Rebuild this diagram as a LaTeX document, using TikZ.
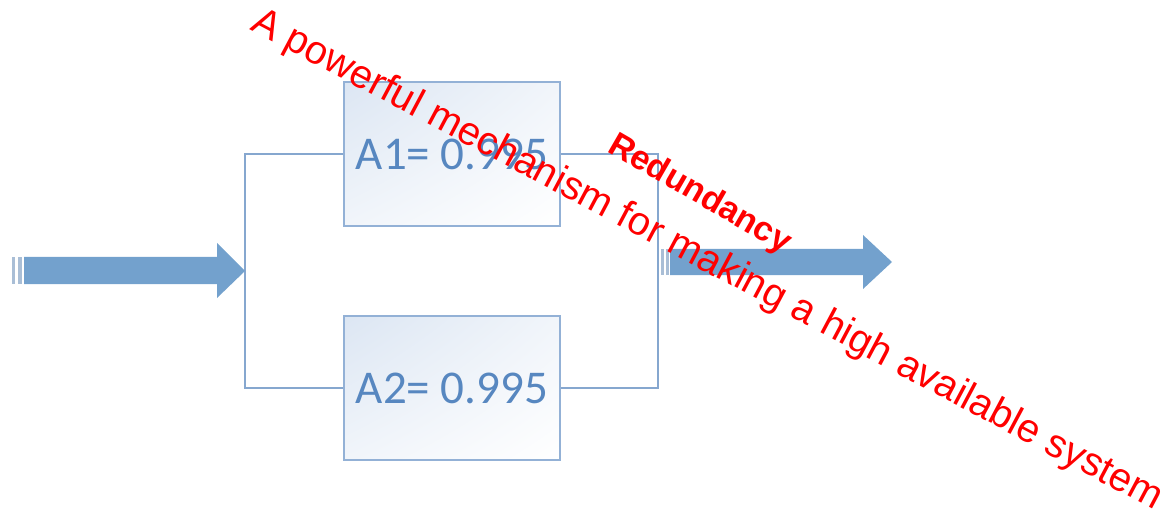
\documentclass[tikz,border=0pt]{standalone}
\usepackage{fontspec}
\setmainfont{Carlito}
\newfontfamily\redfont{Liberation Sans}
\usepackage{graphicx}
\usetikzlibrary{shadings}
\definecolor{boxline}{HTML}{93B1D6}
\definecolor{linkcol}{HTML}{86A7CF}
\definecolor{arrowcol}{HTML}{73A1CD}
\definecolor{stripecol}{HTML}{A9BED6}
\definecolor{boxtext}{HTML}{5787C0}
\definecolor{boxfill}{HTML}{DCE6F3}
\definecolor{redtxt}{HTML}{FF0000}
\begin{document}
\begin{tikzpicture}[x=1pt,y=-1pt,
  unitbox/.style={draw=boxline, line width=1.8pt, minimum width=216pt, minimum height=144pt,
    inner sep=0pt, upper left=boxfill, upper right=boxfill!40, lower left=boxfill!40, lower right=white,
    text=boxtext, font=\fontsize{47}{56}\selectfont},
  link/.style={draw=linkcol, line width=1.8pt},
  blockarrow/.style={fill=arrowcol, draw=none},
  stripe/.style={fill=stripecol, draw=none},
  note/.style={text=redtxt, inner sep=0pt, font=\redfont}]
\useasboundingbox (0,0) rectangle (1169,529);
% boxes
\node[unitbox] (a1) at (452,154) {A1= 0.995};
\node[unitbox] (a2) at (452,388) {A2= 0.995};
% junctions
\coordinate (jl) at (245,271);
\coordinate (jr) at (658,262);
% brackets
\draw[link] (a1.west) -- (a1.west -| jl) -- (a2.west -| jl) -- (a2.west);
\draw[link] (a1.east) -- (a1.east -| jr) -- (a2.east -| jr) -- (a2.east);
% input arrow
\fill[stripe] (12,257) rectangle (15,284);
\fill[stripe] (18,257) rectangle (22,284);
\fill[blockarrow] (24,257) -- (217,257) -- (217,243) -- (jl) -- (217,298) -- (217,284) -- (24,284) -- cycle;
% output arrow
\fill[stripe] (661,249) rectangle (664,275);
\fill[stripe] (666,249) rectangle (669,275);
\fill[blockarrow] (670,249) -- (863,249) -- (863,235) -- (892,262) -- (863,289) -- (863,275) -- (670,275) -- cycle;
% labels
\node[note, anchor=base west, rotate=-28] (t1) at (249,29)
  {\resizebox{1025pt}{!}{A powerful mechanism for making a high available system}};
\node[note, anchor=base west, rotate=-30, font=\redfont\bfseries] (t2) at (606,151)
  {\resizebox{205pt}{!}{Redundancy}};
\end{tikzpicture}
\end{document}
